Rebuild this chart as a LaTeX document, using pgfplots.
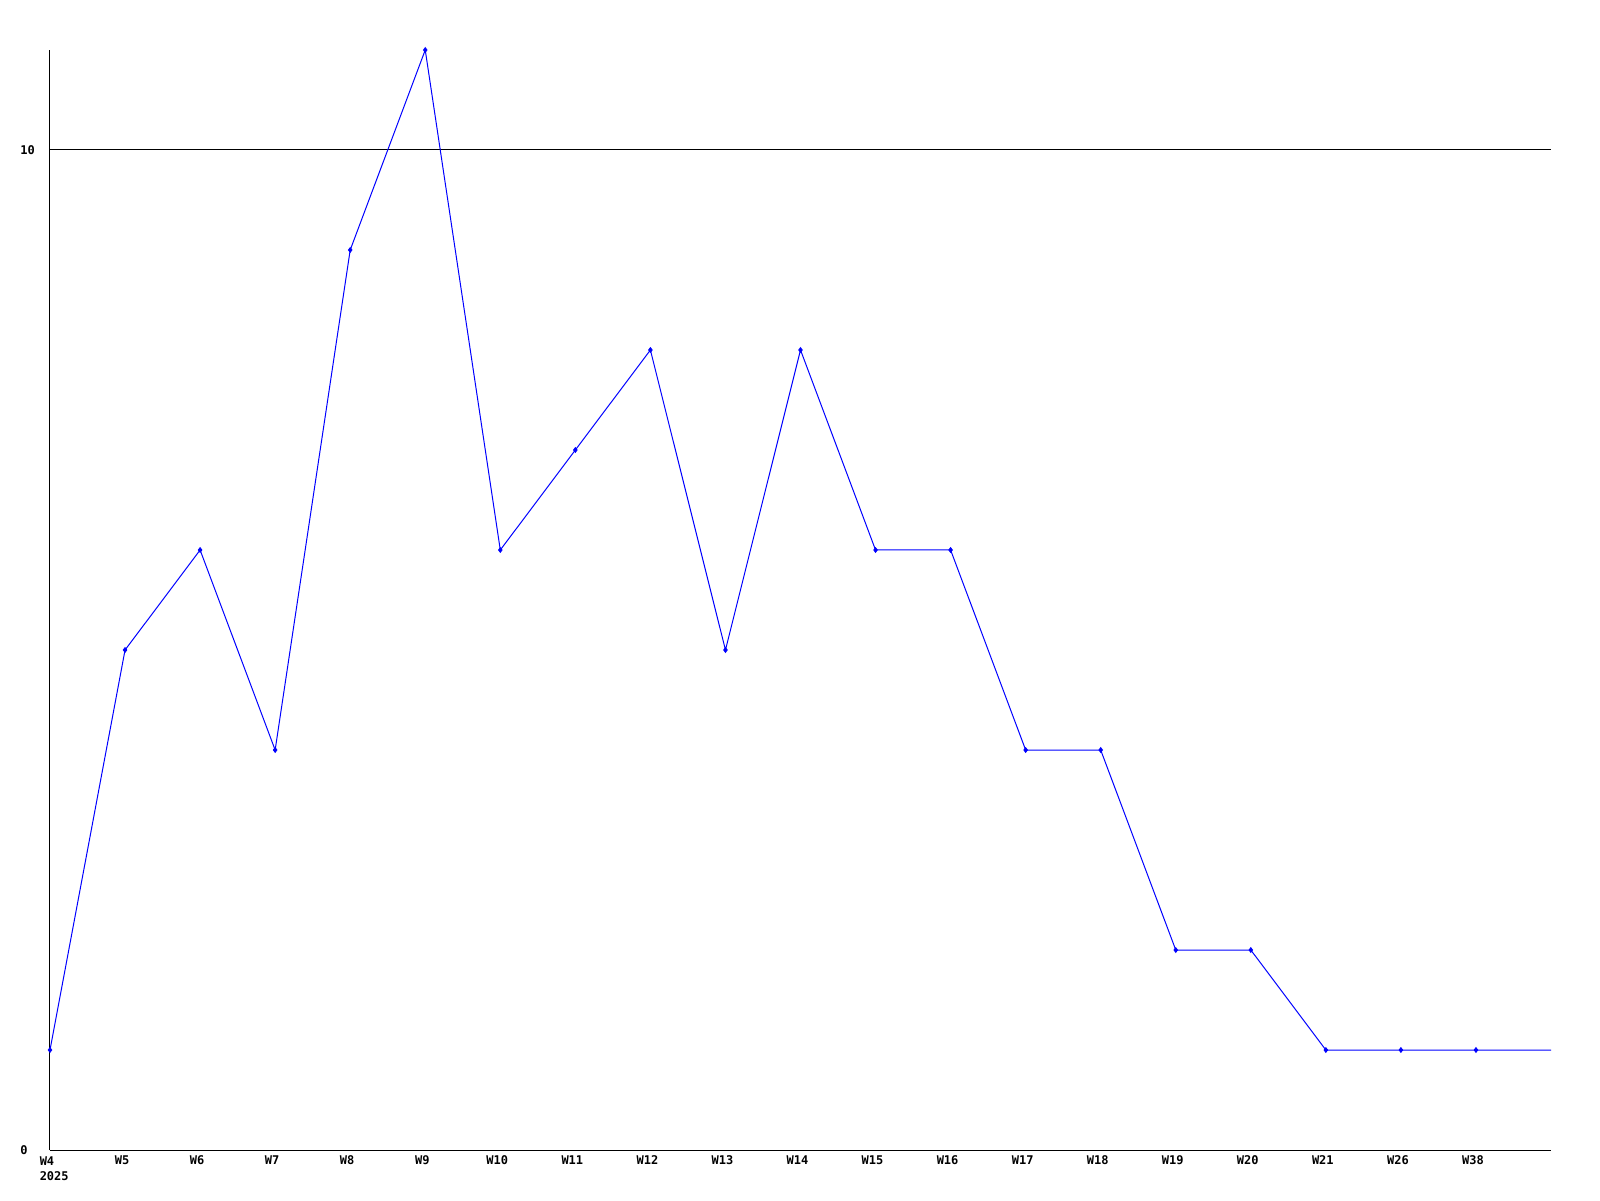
\documentclass[border=0pt]{standalone}
\usepackage{fontspec}
\setmonofont{DejaVu Sans Mono}
\usepackage{pgfplots}
\pgfplotsset{compat=1.18}

\begin{document}
\begin{tikzpicture}
\begin{axis}[
    scale only axis,
    width=750.5pt,
    height=550pt,
    xmin=0, xmax=20,
    ymin=0, ymax=11,
    axis x line=bottom,
    axis y line=left,
    axis line style={-, line width=0.5pt, black},
    ytick={0,10},
    ymajorgrids=true,
    grid style={black, line width=0.5pt},
    xtick={0,...,19},
    xticklabels={{\begin{tabular}[t]{@{}l@{}}W4\\\rlap{2025}\end{tabular}},W5,W6,W7,W8,W9,W10,W11,W12,W13,W14,W15,W16,W17,W18,W19,W20,W21,W26,W38},
    major tick length=0pt,
    ticklabel style={font=\ttfamily\bfseries\fontsize{6}{7.5}\selectfont},
    xticklabel style={anchor=north, inner sep=0pt, yshift=-2.5pt, xshift=-1.5pt},
    yticklabel style={anchor=west, inner sep=0pt, xshift=-15pt},
    /pgf/number format/assume math mode=true,
    clip=false,
]
\addplot[blue, line width=0.5pt, no marks] coordinates {
    (0,1) (1,5) (2,6) (3,4) (4,9) (5,11) (6,6) (7,7) (8,8) (9,5)
    (10,8) (11,6) (12,6) (13,4) (14,4) (15,2) (16,2) (17,1) (18,1) (19,1) (20,1)
};
\addplot[blue, only marks, mark=diamond*, mark size=1.2pt] coordinates {
    (0,1) (1,5) (2,6) (3,4) (4,9) (5,11) (6,6) (7,7) (8,8) (9,5)
    (10,8) (11,6) (12,6) (13,4) (14,4) (15,2) (16,2) (17,1) (18,1) (19,1)
};
\end{axis}
\pgfresetboundingbox
\path (current axis.south west) ++(-25pt,-25pt) rectangle ([shift={(24.5pt,25pt)}]current axis.north east);
\end{tikzpicture}
\end{document}
